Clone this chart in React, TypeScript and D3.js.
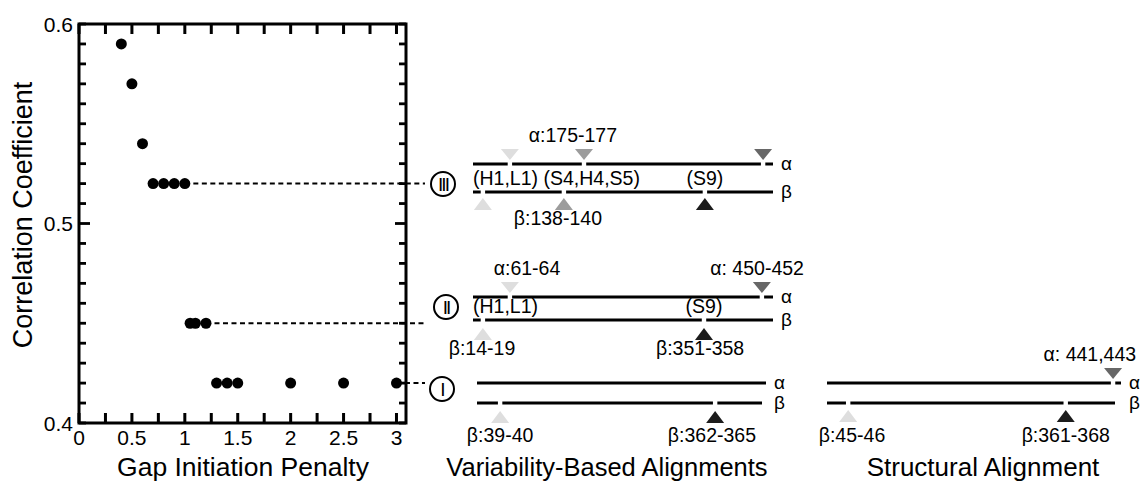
import React from "react";
import * as d3 from "d3";

// ---------- data ----------
const penalties = [0.4, 0.5, 0.6, 0.7, 0.8, 0.9, 1.0, 1.05, 1.1, 1.2, 1.3, 1.4, 1.5, 2.0, 2.5, 3.0];
const correlations = [0.59, 0.57, 0.54, 0.52, 0.52, 0.52, 0.52, 0.45, 0.45, 0.45, 0.42, 0.42, 0.42, 0.42, 0.42, 0.42];

const xMajorTicks = [0, 0.5, 1, 1.5, 2, 2.5, 3];
const xTickLabels = ["0", "0.5", "1", "1.5", "2", "2.5", "3"];
const yMajorTicks = [0.4, 0.5, 0.6];
const yTickLabels = ["0.4", "0.5", "0.6"];

const levelNames = ["III", "II", "I"];
const levelValues = [0.52, 0.45, 0.42];
const levelLastPenalty = [1.0, 1.2, 3.0];

// alignment rows: "III","II","I" (variability-based) and "S" (structural)
// markers: fraction along sequence line, shade 0=light 1=mid 2=dark grey 3=black
const markerRow = ["III", "III", "III", "III", "III", "III", "II", "II", "II", "II", "I", "I", "S", "S", "S"];
const markerStrand = ["a", "a", "a", "b", "b", "b", "a", "a", "b", "b", "b", "b", "a", "b", "b"];
const markerPos = [0.123, 0.37, 0.967, 0.033, 0.303, 0.773, 0.123, 0.963, 0.033, 0.77, 0.08, 0.824, 0.973, 0.072, 0.812];
const markerShade = [0, 1, 2, 0, 1, 3, 0, 2, 0, 3, 0, 3, 2, 0, 3];

const labelRow = ["III", "III", "II", "II", "II", "II", "I", "I", "S", "S", "S"];
const labelStrand = ["a", "b", "a", "a", "b", "b", "b", "b", "a", "b", "b"];
const labelPos = [0.333, 0.283, 0.18, 0.947, 0.03, 0.757, 0.08, 0.813, 0.894, 0.085, 0.812];
const labelText = ["α:175-177", "β:138-140", "α:61-64", "α: 450-452", "β:14-19", "β:351-358", "β:39-40", "β:362-365", "α: 441,443", "β:45-46", "β:361-368"];

const regionRow = ["III", "III", "II", "II"];
const regionPos = [0, 0.773, 0, 0.77];
const regionAnchor = ["start", "middle", "start", "middle"];
const regionText = ["(H1,L1) (S4,H4,S5)", "(S9)", "(H1,L1)", "(S9)"];

const panelTitles = ["Gap Initiation Penalty", "Variability-Based Alignments", "Structural Alignment"];

// ---------- layout ----------
const W = 1141, H = 483;
const FONT = "'Liberation Sans', Arial, Helvetica, sans-serif";
const shades = ["#dedede", "#9c9c9c", "#676767", "#1c1c1c"];

type Row = { ya: number; yb: number; x0: number; x1: number; xb1: number; tri: number; lab: number; cx?: number; cy?: number };
const rows: Record<string, Row> = {
  III: { ya: 164, yb: 192, x0: 473, x1: 773, xb1: 773, tri: 6, lab: 33, cx: 443, cy: 184 },
  II: { ya: 297, yb: 320, x0: 473, x1: 773, xb1: 773, tri: 8, lab: 35, cx: 446, cy: 307 },
  I: { ya: 383, yb: 403, x0: 477, x1: 766, xb1: 762, tri: 8, lab: 39, cx: 442, cy: 389 },
  S: { ya: 383, yb: 403, x0: 827, x1: 1121, xb1: 1115, tri: 7, lab: 39 },
};

export default function App() {
  const xMax = 3.09;
  const x = d3.scaleLinear().domain([0, xMax]).range([79, 406]);
  const y = d3.scaleLinear().domain([0.4, 0.6]).range([423, 24]);
  const minorX = d3.range(0, 13).map((k) => k * 0.25);
  const minorY = d3.range(0, 21).map((k) => 0.4 + k * 0.01);

  const rowScale = (r: string) => d3.scaleLinear().domain([0, 1]).range([rows[r].x0, rows[r].x1]);
  const gapHalf = 2.2;

  const strandSegments = (r: string, strand: string) => {
    const s = rowScale(r);
    const end = strand === "a" ? rows[r].x1 : rows[r].xb1;
    const gaps = markerPos
      .map((p, i) => ({ p, i }))
      .filter(({ i }) => markerRow[i] === r && markerStrand[i] === strand)
      .map(({ p }) => s(p))
      .sort((a, b) => a - b);
    const segs: [number, number][] = [];
    let start = rows[r].x0;
    gaps.forEach((g) => {
      segs.push([start, g - gapHalf]);
      start = g + gapHalf;
    });
    segs.push([start, end]);
    return segs;
  };

  const L = x(0), R = x(xMax), T = y(0.6), B = y(0.4);
  const framePath = d3.path();
  framePath.rect(L, T, R - L, B - T);

  return (
    <svg width={W} height={H} style={{ position: "absolute", left: 0, top: 0, background: "#fff" }} fontFamily={FONT}>
      <rect x={0} y={0} width={W} height={H} fill="#fff" />
      <path d={framePath.toString()} fill="none" stroke="#000" strokeWidth={3} />
      {/* ticks pointing inward on all four sides, as filled rects */}
      {minorX.map((t, i) => (
        <g key={"xt" + i} fill="#000">
          <rect x={x(t) - 1.5} y={B - 10} width={3} height={10} />
          <rect x={x(t) - 1.5} y={T} width={3} height={10} />
        </g>
      ))}
      {minorY.map((t, i) => {
        const len = i === 10 ? 11 : 7;
        return (
          <g key={"yt" + i} fill="#000">
            <rect x={L} y={y(t) - 1.4} width={len} height={2.8} />
            <rect x={R - len} y={y(t) - 1.4} width={len} height={2.8} />
          </g>
        );
      })}

      {xMajorTicks.map((t, i) => (
        <text key={"xl" + i} x={x(t)} y={B + 22} fontSize={21} textAnchor="middle">
          {xTickLabels[i]}
        </text>
      ))}
      {yMajorTicks.map((t, i) => (
        <text key={"yl" + i} x={L - 6} y={y(t) + 7.5} fontSize={21} textAnchor="end">
          {yTickLabels[i]}
        </text>
      ))}
      <text transform={`translate(32,215) rotate(-90)`} fontSize={27} textAnchor="middle">
        Correlation Coefficient
      </text>

      {/* dashed level lines */}
      {levelValues.map((v, i) => (
        <line key={"dl" + i} x1={x(levelLastPenalty[i])} x2={425} y1={y(v)} y2={y(v)} stroke="#000" strokeWidth={2} strokeDasharray="5 3.5" />
      ))}
      {/* points */}
      {penalties.map((p, i) => (
        <circle key={"pt" + i} cx={x(p)} cy={y(correlations[i])} r={5.5} fill="#000" />
      ))}

      {/* level circles */}
      {levelNames.map((n) => {
        const r = rows[n];
        return (
          <g key={"lc" + n}>
            <circle cx={r.cx} cy={r.cy} r={12} fill="#fff" stroke="#000" strokeWidth={2} />
            <text x={r.cx} y={(r.cy as number) + 7} fontSize={19} textAnchor="middle" letterSpacing={-2}>
              {n}
            </text>
          </g>
        );
      })}

      {/* alignment lines */}
      {Object.keys(rows).map((r) => (
        <g key={"row" + r}>
          {(["a", "b"] as const).map((st) =>
            strandSegments(r, st).map((sg, k) => (
              <line key={st + k} x1={sg[0]} x2={sg[1]} y1={st === "a" ? rows[r].ya : rows[r].yb} y2={st === "a" ? rows[r].ya : rows[r].yb} stroke="#000" strokeWidth={3} />
            ))
          )}
          <text x={rows[r].x1 + 8} y={rows[r].ya + 6} fontSize={19}>α</text>
          <text x={rows[r].x1 + 8} y={rows[r].yb + 6} fontSize={19}>β</text>
        </g>
      ))}

      {/* triangles */}
      {markerPos.map((p, i) => {
        const r = rows[markerRow[i]];
        const cx = rowScale(markerRow[i])(p);
        const down = markerStrand[i] === "a";
        const tip = down ? r.ya - 4 : r.yb + r.tri;
        const base = down ? tip - 11 : tip + 12;
        const path = d3.path();
        path.moveTo(cx, tip);
        path.lineTo(cx - 9, base);
        path.lineTo(cx + 9, base);
        path.closePath();
        return <path key={"tri" + i} d={path.toString()} fill={shades[markerShade[i]]} />;
      })}

      {/* residue labels */}
      {labelText.map((t, i) => {
        const r = rows[labelRow[i]];
        const cx = rowScale(labelRow[i])(labelPos[i]);
        const yy = labelStrand[i] === "a" ? r.ya - 22 : r.yb + r.lab;
        return (
          <text key={"lab" + i} x={cx} y={yy} fontSize={19.5} textAnchor="middle">
            {t}
          </text>
        );
      })}
      {regionText.map((t, i) => {
        const r = rows[regionRow[i]];
        const xx = rowScale(regionRow[i])(regionPos[i]);
        return (
          <text key={"reg" + i} x={xx} y={r.yb - 7} fontSize={19.5} textAnchor={regionAnchor[i] as any}>
            {t}
          </text>
        );
      })}

      {/* titles */}
      <text x={243} y={476} fontSize={26.5} textAnchor="middle">{panelTitles[0]}</text>
      <text x={607} y={476} fontSize={25.5} textAnchor="middle">{panelTitles[1]}</text>
      <text x={983} y={476} fontSize={26} textAnchor="middle">{panelTitles[2]}</text>
    </svg>
  );
}
